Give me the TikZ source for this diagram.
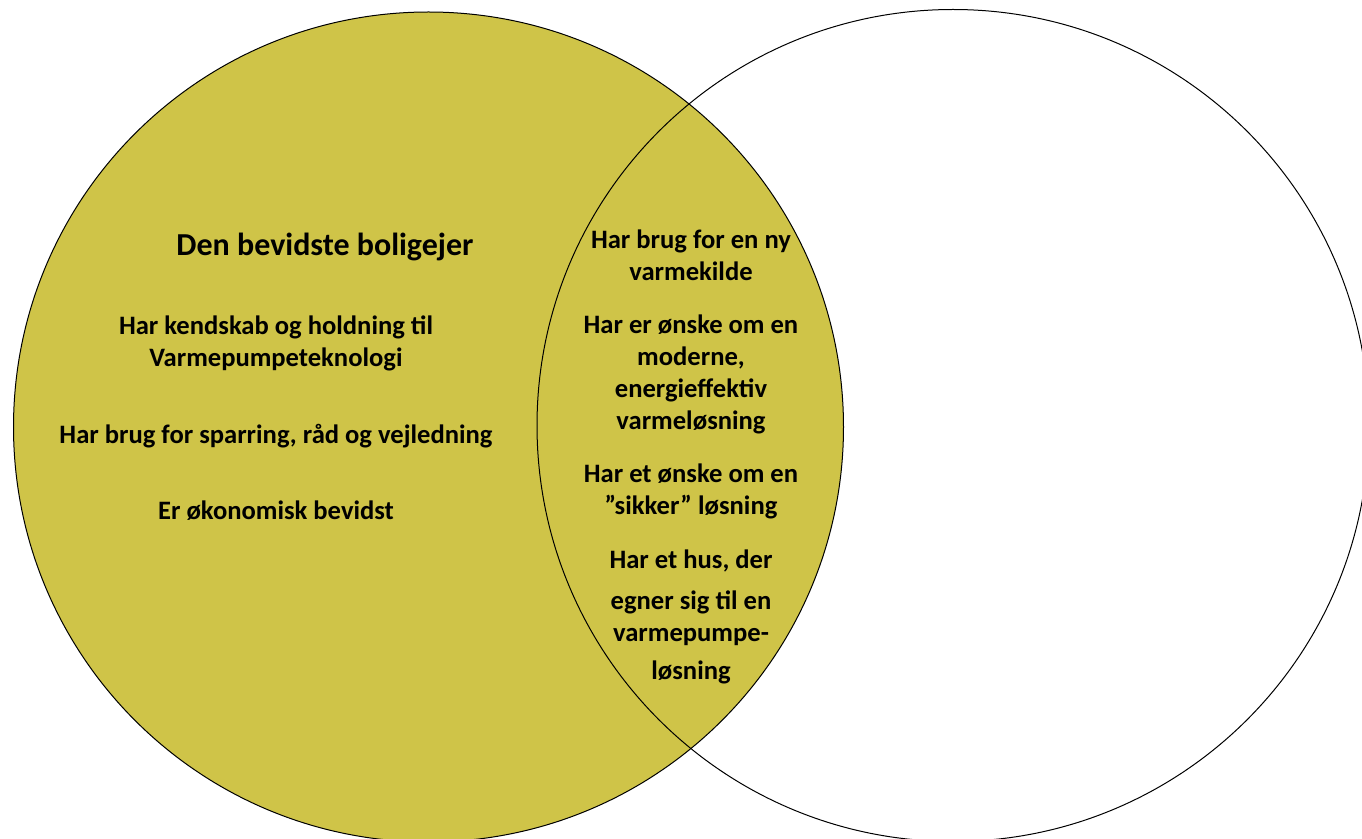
\documentclass[tikz,border=0pt]{standalone}
\usepackage{fontspec}
\setmainfont{Carlito}
\definecolor{venngold}{RGB}{207,196,72}
\tikzset{
  lbl/.style={align=center, anchor=base, inner sep=0pt},
  bodytxt/.style={lbl, font=\bfseries\fontsize{13.3}{15.85}\selectfont},
  lenstxt/.style={lbl, font=\bfseries\fontsize{13.3}{16.1}\selectfont}
}
\begin{document}
\begin{tikzpicture}[x=0.5pt, y=-0.5pt, line width=0.5pt]
\useasboundingbox (0,0) rectangle (1362,839);
% the two sets
\fill[venngold] (428.5,427) circle[radius=207.5pt];
\draw (428.5,427) circle[radius=207.5pt];
\draw (953,425.5) circle[radius=208pt];
% left set (base = last line)
\node[lbl, font=\bfseries\fontsize{16}{19}\selectfont] (title) at (325,256) {Den bevidste boligejer};
\node[bodytxt] (kendskab) at (276,366.7) {Har kendskab og holdning til\\Varmepumpeteknologi};
\node[bodytxt] (sparring) at (276,443.5) {Har brug for sparring, råd og vejledning};
\node[bodytxt] (oekonomi) at (276,520) {Er økonomisk bevidst};
% overlap
\node[lenstxt] (kilde) at (691,280.7) {Har brug for en ny\\varmekilde};
\node[lenstxt] (moderne) at (691,430) {Har er ønske om en\\moderne,\\energieffektiv\\varmeløsning};
\node[lenstxt] (sikker) at (691,515) {Har et ønske om en\\”sikker” løsning};
\node[lenstxt] (hus) at (691,680) {Har et hus, der\\[4pt]egner sig til en\\varmepumpe-\\[3.2pt]løsning};
\end{tikzpicture}
\end{document}
